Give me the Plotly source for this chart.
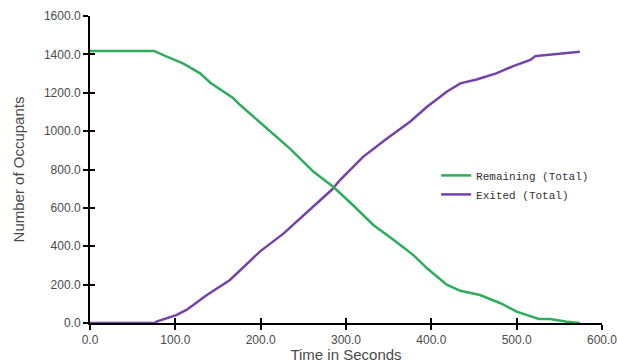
import plotly.graph_objects as go

# Evacuation simulation output: occupants still inside vs. occupants that have left
remaining_t = [0, 75, 90, 109, 129, 141, 168, 176, 207, 234, 262, 285, 308, 332,
               356, 379, 395, 406, 418, 434, 457, 481, 500, 526, 539, 559, 574]
remaining_n = [1418, 1418, 1388, 1353, 1301, 1252, 1171, 1136, 1015, 910, 788, 710, 615, 511,
               433, 354, 285, 245, 200, 168, 146, 103, 59, 21, 21, 7, 0]

exited_t = [0, 76, 78, 101, 113, 137, 164, 176, 199, 227, 246, 270, 283, 293,
            320, 348, 375, 395, 418, 434, 453, 476, 496, 516, 522, 535, 555, 574]
exited_n = [0, 0, 7, 41, 68, 146, 224, 276, 372, 467, 545, 641, 693, 745,
            866, 962, 1049, 1127, 1205, 1249, 1269, 1301, 1339, 1371, 1391, 1397, 1405, 1414]

x_ticks = [0, 100, 200, 300, 400, 500, 600]
y_ticks = [0, 200, 400, 600, 800, 1000, 1200, 1400, 1600]

GREEN = "#2EAD5C"
PURPLE = "#7443A8"
AXIS_FONT = dict(family="Liberation Sans, Arial, sans-serif", size=12, color="#4a4a4a")
TITLE_FONT = dict(family="Liberation Sans, Arial, sans-serif", size=15, color="#4a4a4a")

fig = go.Figure()
# "Remaining" lives on the companion axes (same ranges) that carry the inner tick halves
fig.add_trace(go.Scatter(x=remaining_t, y=remaining_n, mode="lines", xaxis="x2", yaxis="y2",
                         name="Remaining (Total)", line=dict(color=GREEN, width=2.5)))
fig.add_trace(go.Scatter(x=exited_t, y=exited_n, mode="lines",
                         name="Exited (Total)", line=dict(color=PURPLE, width=2.5)))

common_axis = dict(showgrid=False, zeroline=False, showline=True, linecolor="black",
                   linewidth=2, tickcolor="black", tickwidth=2, ticklen=5,
                   tickformat=".1f", tickfont=AXIS_FONT, automargin=False,
                   ticklabeloverflow="allow")
inner_axis = dict(showticklabels=False, showgrid=False, zeroline=False, showline=False,
                  ticks="inside", tickcolor="black", tickwidth=2, ticklen=5,
                  automargin=False)

fig.update_layout(
    width=617, height=363,
    margin=dict(l=90, r=15, t=16, b=40),
    plot_bgcolor="white", paper_bgcolor="white",
    xaxis=dict(range=[0, 600], tickvals=x_ticks, ticks="outside",
               title=dict(text="Time in Seconds", standoff=2, font=TITLE_FONT),
               **common_axis),
    yaxis=dict(range=[0, 1600], tickvals=y_ticks, ticks="outside",
               title=dict(text="Number of Occupants", standoff=16, font=TITLE_FONT),
               **common_axis),
    xaxis2=dict(range=[0, 600], tickvals=x_ticks, overlaying="x", anchor="y2",
                side="bottom", **inner_axis),
    yaxis2=dict(range=[0, 1600], tickvals=y_ticks, overlaying="y", anchor="x2",
                side="left", **inner_axis),
    legend=dict(x=0.676, y=0.528, xanchor="left", yanchor="top",
                bgcolor="rgba(0,0,0,0)", borderwidth=0,
                font=dict(family="Liberation Mono, monospace", size=11, color="#333333")),
)

fig.write_html("out.html")
